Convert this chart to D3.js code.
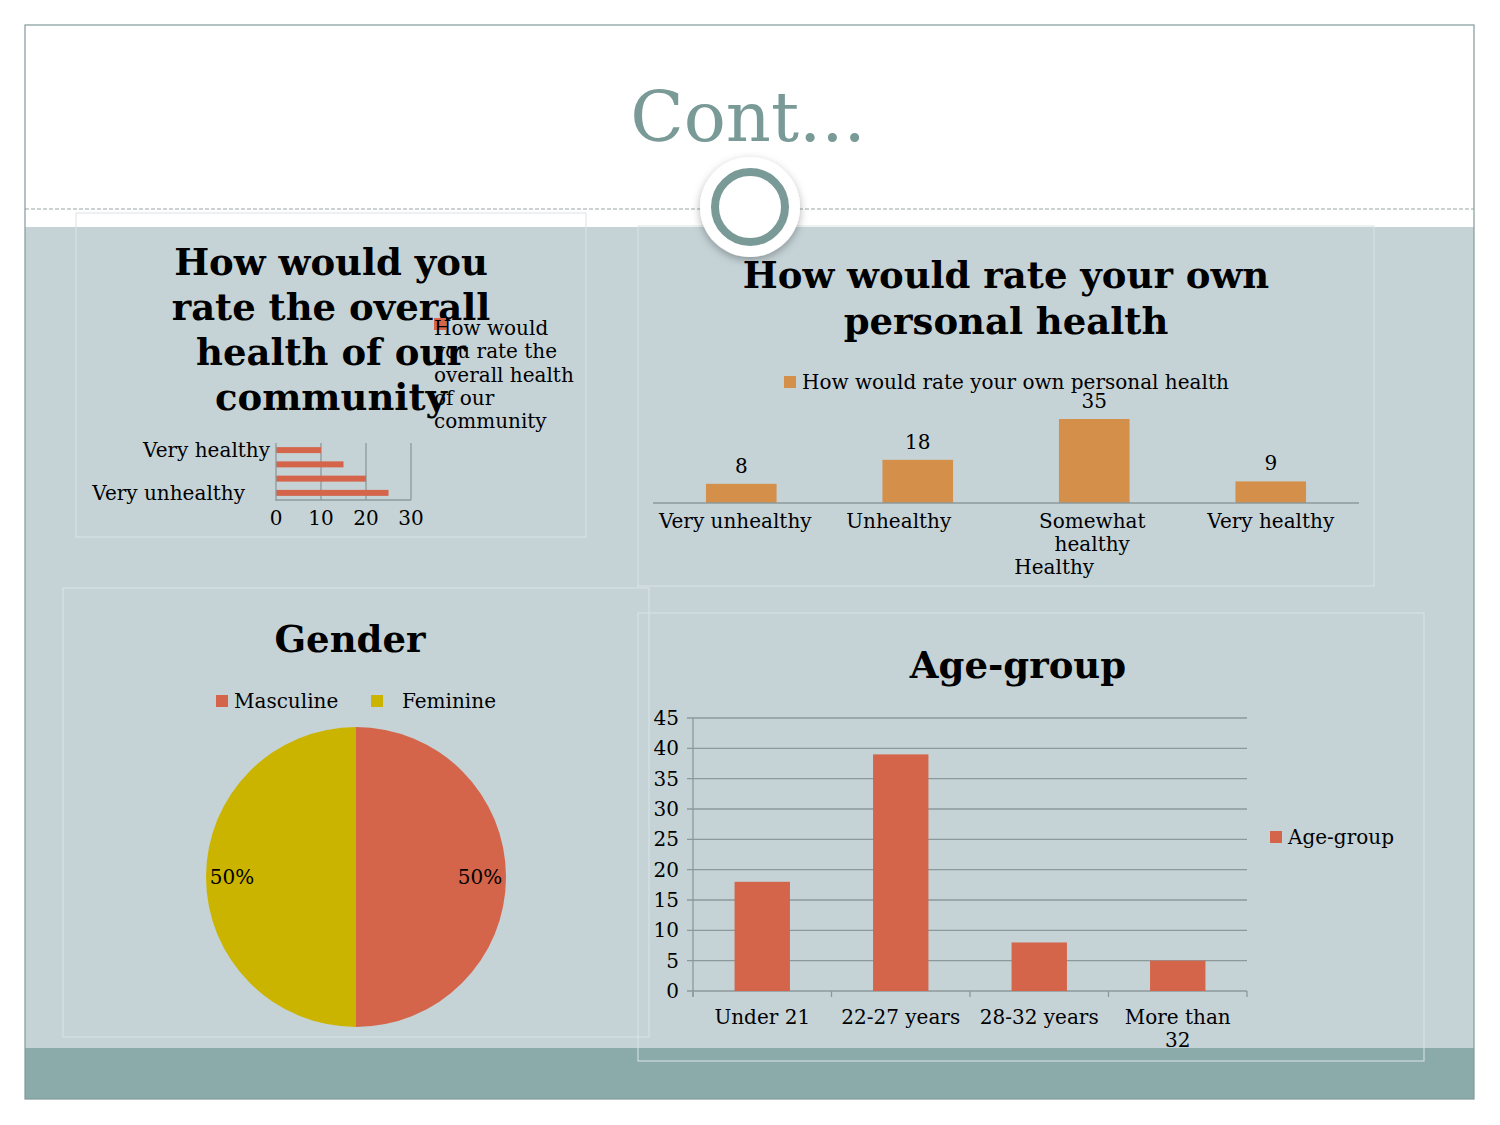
<!DOCTYPE html>
<html><head><meta charset="utf-8">
<script src="https://cdn.jsdelivr.net/npm/d3@7"></script>
<style>
html,body{margin:0;padding:0;background:#fff;}
svg{display:block;}
text{font-family:"DejaVu Serif",serif;}
</style></head>
<body>
<script>
// ---------- DATA ----------
const slideTitle = "Cont...";

const commTitleLines = ["How would you","rate the overall","health of our","community"];
const commLegendLines = ["How would","you rate the","overall health","of our","community"];
const commCategories = ["Very unhealthy","Unhealthy","Healthy","Very healthy"];
const commValues = [25, 20, 15, 10];
const commTicks = [0, 10, 20, 30];

const ownTitleLines = ["How would rate your own","personal health"];
const ownLegend = "How would rate your own personal health";
const ownCategories = ["Very unhealthy","Unhealthy","Somewhat healthy","Very healthy"];
const ownCategoryLines = [["Very unhealthy"],["Unhealthy"],["Somewhat","healthy"],["Very healthy"]];
const ownValues = [8, 18, 35, 9];
const ownExtraLabel = "Healthy";

const genderTitle = "Gender";
const genderCategories = ["Masculine","Feminine"];
const genderValues = [50, 50];

const ageTitle = "Age-group";
const ageCategories = ["Under 21","22-27 years","28-32 years","More than 32"];
const ageCategoryLines = [["Under 21"],["22-27 years"],["28-32 years"],["More than","32"]];
const ageValues = [18, 39, 8, 5];
const ageTicks = [0,5,10,15,20,25,30,35,40,45];

// ---------- STYLE ----------
const RED = "#d4654a", ORANGE = "#d4904a", YELLOW = "#cbb400";
const AXIS = "#8d9899";
const W = 1500, H = 1125;

const svg = d3.select("body").append("svg").attr("width", W).attr("height", H);
const defs = svg.append("defs");
const f = defs.append("filter").attr("id","sh").attr("x","-30%").attr("y","-30%").attr("width","160%").attr("height","160%");
f.append("feDropShadow").attr("dx",0).attr("dy",3).attr("stdDeviation",4).attr("flood-color","#000").attr("flood-opacity",0.3);

// slide background
svg.append("rect").attr("x",25).attr("y",25).attr("width",1449).attr("height",1074).attr("fill","#fff");
svg.append("rect").attr("x",25).attr("y",227).attr("width",1449).attr("height",821).attr("fill","#c5d3d7");
svg.append("rect").attr("x",25).attr("y",1048).attr("width",1449).attr("height",51).attr("fill","#8babab");
svg.append("line").attr("x1",25).attr("x2",1474).attr("y1",209).attr("y2",209)
  .attr("stroke","#9aa4a6").attr("stroke-width",1).attr("stroke-dasharray","4,2");
svg.append("rect").attr("x",25).attr("y",25).attr("width",1449).attr("height",1074)
  .attr("fill","none").attr("stroke","#83999a").attr("stroke-width",1.2);

// title
svg.append("text").attr("x",748).attr("y",141).attr("text-anchor","middle")
  .attr("font-size",70).attr("fill","#7a9a97").text(slideTitle);

// panels
function panel(x,y,w,h){
  svg.append("rect").attr("x",x).attr("y",y).attr("width",w).attr("height",h)
    .attr("fill","none").attr("stroke","#dbe3e6").attr("stroke-width",1);
}
panel(76,213,510,324);
panel(638,226,736,360);
panel(63,588,586,449);
panel(638,613,786,448);

// ornament circle
svg.append("circle").attr("cx",750).attr("cy",207).attr("r",50).attr("fill","#fff").attr("filter","url(#sh)");
svg.append("circle").attr("cx",750).attr("cy",207).attr("r",35).attr("fill","#fff")
  .attr("stroke","#7a9a97").attr("stroke-width",8);

function multiline(g, lines, x, y, lh, opts){
  const t = g.append("text").attr("x",x).attr("y",y)
    .attr("text-anchor",opts.anchor||"middle").attr("font-size",opts.size)
    .attr("font-weight",opts.weight||"normal").attr("fill",opts.fill||"#000");
  lines.forEach((l,i)=> t.append("tspan").attr("x",x).attr("dy", i===0?0:lh).text(l));
  return t;
}

// ---------- Chart 1: community (horizontal bars) ----------
{
  const g = svg.append("g");
  multiline(g, commTitleLines, 331, 275, 45, {size:37, weight:"bold"});
  const x = d3.scaleLinear().domain([0,30]).range([276,411]);
  const y = d3.scaleBand().domain(commCategories.slice().reverse()).range([443,500]).paddingInner(0.58).paddingOuter(0.29);
  g.selectAll("line.grid").data(commTicks.slice(1)).join("line")
    .attr("x1",d=>x(d)).attr("x2",d=>x(d)).attr("y1",443).attr("y2",500)
    .attr("stroke",AXIS).attr("stroke-width",1.3);
  g.selectAll("rect.bar").data(commCategories).join("rect")
    .attr("x",x(0)).attr("y",d=>y(d)).attr("height",y.bandwidth())
    .attr("width",(d,i)=>x(commValues[i])-x(0)).attr("fill",RED);
  g.append("line").attr("x1",x(0)).attr("x2",x(0)).attr("y1",443).attr("y2",501).attr("stroke",AXIS).attr("stroke-width",1.3);
  g.append("line").attr("x1",x(0)).attr("x2",x(30)).attr("y1",500).attr("y2",500).attr("stroke",AXIS).attr("stroke-width",1.3);
  g.selectAll("text.tick").data(commTicks).join("text")
    .attr("x",d=>x(d)).attr("y",525).attr("text-anchor","middle").attr("font-size",20).text(d=>d);
  const top = commCategories[commCategories.length-1], bot = commCategories[0];
  g.append("text").attr("x",270).attr("y",y(top)+y.bandwidth()/2+7).attr("text-anchor","end").attr("font-size",20).text(top);
  g.append("text").attr("x",245).attr("y",y(bot)+y.bandwidth()/2+7).attr("text-anchor","end").attr("font-size",20).text(bot);
  g.append("rect").attr("x",434).attr("y",318).attr("width",12).attr("height",12).attr("fill",RED);
  multiline(g, commLegendLines, 434, 335, 23.3, {size:20, anchor:"start"});
}

// ---------- Chart 2: own health ----------
{
  const g = svg.append("g");
  multiline(g, ownTitleLines, 1006, 288, 46, {size:37, weight:"bold"});
  const x = d3.scaleBand().domain(ownCategories).range([653,1359]).paddingInner(0.6).paddingOuter(0.3);
  const y = d3.scaleLinear().domain([0,40]).range([503,407]);
  g.selectAll("rect.bar").data(ownCategories).join("rect")
    .attr("x",d=>x(d)).attr("width",x.bandwidth())
    .attr("y",(d,i)=>y(ownValues[i])).attr("height",(d,i)=>y(0)-y(ownValues[i])).attr("fill",ORANGE);
  g.append("line").attr("x1",653).attr("x2",1359).attr("y1",503).attr("y2",503).attr("stroke",AXIS).attr("stroke-width",1.3);
  g.selectAll("text.val").data(ownCategories).join("text")
    .attr("x",d=>x(d)+x.bandwidth()/2).attr("y",(d,i)=>y(ownValues[i])-11)
    .attr("text-anchor","middle").attr("font-size",20).text((d,i)=>ownValues[i]);
  const dxs = [-6,-19,-2,0];
  ownCategories.forEach((c,i)=>{
    multiline(g, ownCategoryLines[i], x(c)+x.bandwidth()/2+dxs[i], 528, 23, {size:20});
  });
  g.append("text").attr("x",x(ownCategories[2])+x.bandwidth()/2-40).attr("y",574)
    .attr("text-anchor","middle").attr("font-size",20).text(ownExtraLabel);
  g.append("rect").attr("x",784).attr("y",376).attr("width",12).attr("height",12).attr("fill",ORANGE);
  g.append("text").attr("x",802).attr("y",389).attr("font-size",20).text(ownLegend);
}

// ---------- Chart 3: gender pie ----------
{
  const g = svg.append("g");
  g.append("text").attr("x",350).attr("y",652).attr("text-anchor","middle").attr("font-size",37).attr("font-weight","bold").text(genderTitle);
  const colors = [RED, YELLOW];
  const pie = d3.pie().sort(null).value(d=>d)(genderValues);
  const arc = d3.arc().innerRadius(0).outerRadius(150);
  const lab = d3.arc().innerRadius(124).outerRadius(124);
  const pg = g.append("g").attr("transform","translate(356,877)");
  pg.selectAll("path").data(pie).join("path").attr("d",arc).attr("fill",(d,i)=>colors[i]);
  const total = d3.sum(genderValues);
  pg.selectAll("text").data(pie).join("text")
    .attr("x",d=>lab.centroid(d)[0]).attr("y",d=>lab.centroid(d)[1]+7)
    .attr("text-anchor","middle").attr("font-size",20)
    .text(d=>Math.round(d.data/total*100)+"%");
  const lx = [216, 371], tx = [234, 402];
  genderCategories.forEach((c,i)=>{
    g.append("rect").attr("x",lx[i]).attr("y",695).attr("width",12).attr("height",12).attr("fill",colors[i]);
    g.append("text").attr("x",tx[i]).attr("y",708).attr("font-size",20).text(c);
  });
}

// ---------- Chart 4: age group ----------
{
  const g = svg.append("g");
  g.append("text").attr("x",1018).attr("y",678).attr("text-anchor","middle").attr("font-size",37).attr("font-weight","bold").text(ageTitle);
  const x = d3.scaleBand().domain(ageCategories).range([693,1247]).paddingInner(0.6).paddingOuter(0.3);
  const y = d3.scaleLinear().domain([0,45]).range([991,718]);
  g.selectAll("line.grid").data(ageTicks).join("line")
    .attr("x1",687).attr("x2",1247).attr("y1",d=>y(d)).attr("y2",d=>y(d))
    .attr("stroke",AXIS).attr("stroke-width",1.3);
  g.selectAll("rect.bar").data(ageCategories).join("rect")
    .attr("x",d=>x(d)).attr("width",x.bandwidth())
    .attr("y",(d,i)=>y(ageValues[i])).attr("height",(d,i)=>y(0)-y(ageValues[i])).attr("fill",RED);
  g.append("line").attr("x1",693).attr("x2",693).attr("y1",718).attr("y2",997).attr("stroke",AXIS).attr("stroke-width",1.3);
  const bounds = d3.range(ageCategories.length+1).map(i=>693 + i*(1247-693)/ageCategories.length);
  g.selectAll("line.xt").data(bounds).join("line")
    .attr("x1",d=>d).attr("x2",d=>d).attr("y1",991).attr("y2",997).attr("stroke",AXIS).attr("stroke-width",1.3);
  g.selectAll("text.yt").data(ageTicks).join("text")
    .attr("x",679).attr("y",d=>y(d)+7).attr("text-anchor","end").attr("font-size",20).text(d=>d);
  ageCategories.forEach((c,i)=>{
    multiline(g, ageCategoryLines[i], x(c)+x.bandwidth()/2, 1024, 23, {size:20});
  });
  g.append("rect").attr("x",1270).attr("y",831).attr("width",12).attr("height",12).attr("fill",RED);
  g.append("text").attr("x",1288).attr("y",844).attr("font-size",20).text(ageTitle);
}
</script>
</body></html>
